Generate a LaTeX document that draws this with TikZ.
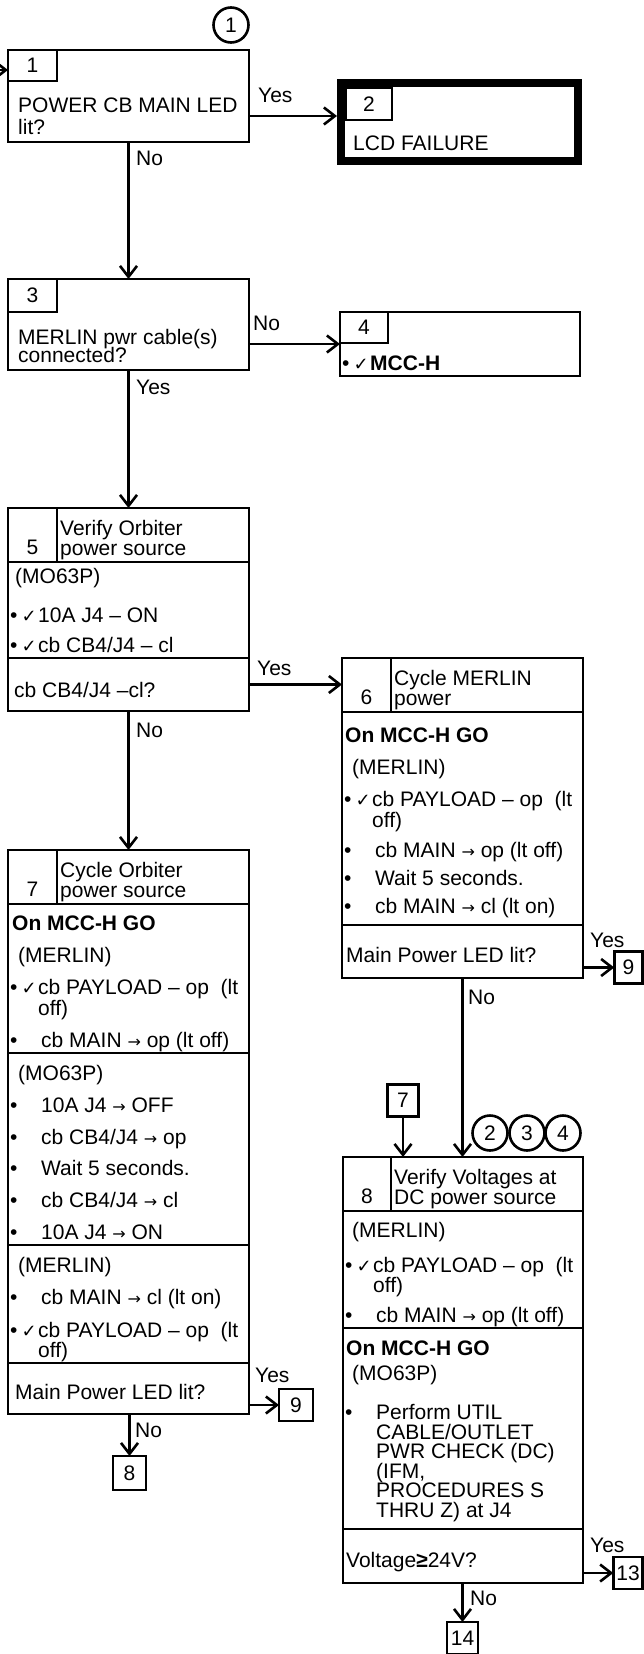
\documentclass[tikz,border=0pt]{standalone}
\usepackage{fontspec}
\setmainfont{Liberation Sans}
\newfontfamily\dejavu{DejaVu Sans}
\usetikzlibrary{arrows.meta,positioning}
\newcommand{\fs}{\fontsize{21}{20}\selectfont}
\newcommand{\chk}{{\dejavu\fontsize{18}{18}\selectfont ✓}}
\newcommand{\toarr}{{\dejavu\fontsize{16}{16}\selectfont →}}
\newcommand{\bul}{\makebox[31pt][l]{•}}
\newcommand{\bulchk}{\makebox[28pt][l]{•\hspace{4pt}\chk}}
\tikzset{
  stepbox/.style={draw,line width=2.6pt,inner sep=0pt,outer sep=0pt,minimum width=241pt},
  numcell/.style={draw,line width=2.6pt,inner sep=0pt,outer sep=0pt,minimum width=49pt,font=\fs},
  numhead/.style={numcell,minimum height=54pt,text height=46pt,text depth=8pt},
  endbox/.style={draw,line width=8pt,inner sep=0pt,outer sep=4pt},
  refbox/.style={draw,line width=2.6pt,inner sep=0pt,outer sep=0pt,minimum width=31pt,minimum height=32pt,font=\fs},
  refcircle/.style={draw,circle,line width=2.6pt,inner sep=0pt,outer sep=0pt,minimum size=35pt,font=\fs},
  txt/.style={anchor=base west,inner sep=0pt,font=\fs},
  lbl/.style={txt},
  flowarrow/.style={-{Straight Barb[length=11pt,width=17pt]},line width=2.6pt}
}
\begin{document}
\begin{tikzpicture}[x=1pt,y=-1pt]
\useasboundingbox (0,0) rectangle (644,1654);

\node[refcircle] (c1) at (231,25) {1};
\node[stepbox,minimum height=92pt,anchor=north west] (q1) at (8,50) {};
\node[numcell,minimum height=31pt,anchor=north west] (n1) at (q1.north west) {1};
\node[txt] (t1a) at (18,112) {POWER CB MAIN LED};
\node[txt] (t1b) at (18,134) {lit?};

\node[endbox,minimum width=237pt,minimum height=78pt,anchor=north west] (d2) at (337,79) {};
\node[numcell,minimum width=46pt,minimum height=32pt,anchor=north west] (n2) at (346,88) {2};
\node[txt] (t2) at (353,150) {LCD FAILURE};

\node[stepbox,minimum height=91pt,anchor=north west] (q3) at (8,279) {};
\node[numcell,minimum height=33pt,anchor=north west] (n3) at (q3.north west) {3};
\node[txt] (t3a) at (18,344) {MERLIN pwr cable(s)};
\node[txt] (t3b) at (18,362) {connected?};

\node[stepbox,minimum width=240pt,minimum height=64pt,anchor=north west] (d4) at (340,312) {};
\node[numcell,minimum width=48pt,minimum height=31pt,anchor=north west] (n4) at (d4.north west) {4};
\node[txt] (t4) at (342,370) {\bulchk\textbf{MCC-H}};

\node[stepbox,minimum height=54pt,anchor=north west] (h5) at (8,508) {};
\node[numhead,anchor=north west] (n5) at (h5.north west) {5};
\node[stepbox,minimum height=96pt,below=0pt of h5] (b5) {};
\node[stepbox,minimum height=53pt,below=0pt of b5] (q5) {};
\node[txt] (t5a) at (60,535) {Verify Orbiter};
\node[txt] (t5b) at (60,555) {power source};
\node[txt] (t5c) at (15,583) {(MO63P)};
\node[txt] (t5d) at (10,622) {\bulchk 10A J4 – ON};
\node[txt] (t5e) at (10,652) {\bulchk cb CB4/J4 – cl};
\node[txt] (t5f) at (14,697) {cb CB4/J4 –cl?};

\node[stepbox,minimum height=54pt,anchor=north west] (h6) at (342,658) {};
\node[numhead,anchor=north west] (n6) at (h6.north west) {6};
\node[stepbox,minimum height=213pt,below=0pt of h6] (b6) {};
\node[stepbox,minimum height=53pt,below=0pt of b6] (q6) {};
\node[txt] (t6a) at (394,685) {Cycle MERLIN};
\node[txt] (t6b) at (394,705) {power};
\node[txt,font=\fs\bfseries] (t6c) at (345,742) {On MCC-H GO};
\node[txt] (t6d) at (352,774) {(MERLIN)};
\node[txt] (t6e) at (344,806) {\bulchk cb PAYLOAD – op\ \ (lt};
\node[txt] (t6f) at (372,827) {off)};
\node[txt] (t6g) at (344,857) {\bul cb MAIN \toarr\ op (lt off)};
\node[txt] (t6h) at (344,885) {\bul Wait 5 seconds.};
\node[txt] (t6i) at (344,913) {\bul cb MAIN \toarr\ cl (lt on)};
\node[txt] (t6j) at (346,962) {Main Power LED lit?};

\node[stepbox,minimum height=54pt,anchor=north west] (h7) at (8,850) {};
\node[numhead,anchor=north west] (n7) at (h7.north west) {7};
\node[stepbox,minimum height=149pt,below=0pt of h7] (b7a) {};
\node[stepbox,minimum height=192pt,below=0pt of b7a] (b7b) {};
\node[stepbox,minimum height=118pt,below=0pt of b7b] (b7c) {};
\node[stepbox,minimum height=51pt,below=0pt of b7c] (q7) {};
\node[txt] (t7a) at (60,877) {Cycle Orbiter};
\node[txt] (t7b) at (60,897) {power source};
\node[txt,font=\fs\bfseries] (t7c) at (12,930) {On MCC-H GO};
\node[txt] (t7d) at (18,962) {(MERLIN)};
\node[txt] (t7e) at (10,994) {\bulchk cb PAYLOAD – op\ \ (lt};
\node[txt] (t7f) at (38,1015) {off)};
\node[txt] (t7g) at (10,1047) {\bul cb MAIN \toarr\ op (lt off)};
\node[txt] (t7h) at (18,1080) {(MO63P)};
\node[txt] (t7i) at (10,1112) {\bul 10A J4 \toarr\ OFF};
\node[txt] (t7j) at (10,1144) {\bul cb CB4/J4 \toarr\ op};
\node[txt] (t7k) at (10,1175) {\bul Wait 5 seconds.};
\node[txt] (t7l) at (10,1207) {\bul cb CB4/J4 \toarr\ cl};
\node[txt] (t7m) at (10,1239) {\bul 10A J4 \toarr\ ON};
\node[txt] (t7n) at (18,1272) {(MERLIN)};
\node[txt] (t7o) at (10,1304) {\bul cb MAIN \toarr\ cl (lt on)};
\node[txt] (t7p) at (10,1337) {\bulchk cb PAYLOAD – op\ \ (lt};
\node[txt] (t7q) at (38,1357) {off)};
\node[txt] (t7r) at (15,1399) {Main Power LED lit?};

\node[refbox] (r7) at (403,1100.5) {7};
\node[refcircle] (c2) at (490,1133) {2};
\node[refcircle] (c3) at (527,1133) {3};
\node[refcircle] (c4) at (563,1133) {4};

\node[stepbox,minimum width=240pt,minimum height=54pt,anchor=north west] (h8) at (343,1157) {};
\node[numhead,minimum width=48pt,anchor=north west] (n8) at (h8.north west) {8};
\node[stepbox,minimum width=240pt,minimum height=117pt,below=0pt of h8] (b8a) {};
\node[stepbox,minimum width=240pt,minimum height=201pt,below=0pt of b8a] (b8b) {};
\node[stepbox,minimum width=240pt,minimum height=54pt,below=0pt of b8b] (q8) {};
\node[txt] (t8a) at (394,1184) {Verify Voltages at};
\node[txt] (t8b) at (394,1204) {DC power source};
\node[txt] (t8c) at (352,1237) {(MERLIN)};
\node[txt] (t8d) at (345,1272) {\bulchk cb PAYLOAD – op\ \ (lt};
\node[txt] (t8e) at (373,1292) {off)};
\node[txt] (t8f) at (345,1322) {\bul cb MAIN \toarr\ op (lt off)};
\node[txt,font=\fs\bfseries] (t8g) at (346,1355) {On MCC-H GO};
\node[txt] (t8h) at (352,1380) {(MO63P)};
\node[txt] (t8i) at (345,1419) {\bul Perform UTIL};
\node[txt] (t8j) at (376,1439) {CABLE/OUTLET};
\node[txt] (t8k) at (376,1458) {PWR CHECK (DC)};
\node[txt] (t8l) at (376,1478) {(IFM,};
\node[txt] (t8m) at (376,1497) {PROCEDURES S};
\node[txt] (t8n) at (376,1517) {THRU Z) at J4};
\node[txt] (t8o) at (346,1567) {Voltage\textbf{≥}24V?};

\node[refbox,minimum width=28.5pt] (r9a) at (628.5,967.5) {9};
\node[refbox,minimum width=34pt] (r9b) at (296,1405) {9};
\node[refbox,minimum width=29.5pt] (r13) at (628,1573) {13};
\node[refbox] (r14) at (462.5,1638) {14};
\node[refbox,minimum width=33pt,minimum height=34pt] (r8) at (129.5,1473) {8};

\coordinate (in1) at (-12,70);
\draw[flowarrow] (in1) -- (in1 -| q1.west);
\coordinate (y12) at ([yshift=6pt]d2.west);
\draw[flowarrow] (y12 -| q1.east) -- (y12);
\draw[flowarrow] (q1) -- (q3);
\draw[flowarrow] (q3.east |- d4.west) -- (d4.west);
\draw[flowarrow] (q3) -- (h5);
\draw[flowarrow] (q5.east) -- (q5.east -| h6.west);
\draw[flowarrow] (q5) -- (h7);
\draw[flowarrow] (q6.east |- r9a) -- (r9a);
\draw[flowarrow] (q6.south) -- (q6.south |- h8.north);
\draw[flowarrow] (r7) -- (r7 |- h8.north);
\draw[flowarrow] (q7.east |- r9b) -- (r9b);
\draw[flowarrow] (q7.south -| r8) -- (r8);
\draw[flowarrow] (q8.east |- r13) -- (r13);
\draw[flowarrow] (q8.south -| r14) -- (r14);

\node[lbl] (l12) at (258,102) {Yes};
\node[lbl] (l13) at (136,165) {No};
\node[lbl] (l34) at (253,330) {No};
\node[lbl] (l35) at (136,394) {Yes};
\node[lbl] (l56) at (257,675) {Yes};
\node[lbl] (l57) at (136,737) {No};
\node[lbl] (l69) at (590,947) {Yes};
\node[lbl] (l68) at (468,1004) {No};
\node[lbl] (l79) at (255,1382) {Yes};
\node[lbl] (l78) at (135,1437) {No};
\node[lbl] (l813) at (590,1552) {Yes};
\node[lbl] (l814) at (470,1605) {No};
\end{tikzpicture}
\end{document}
